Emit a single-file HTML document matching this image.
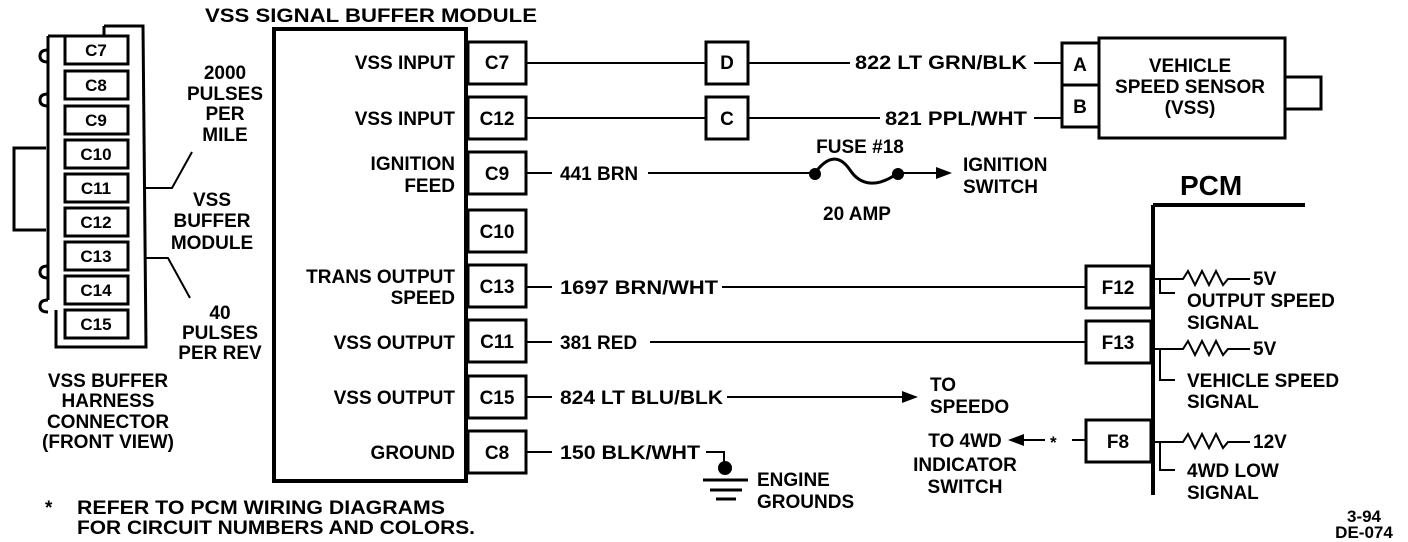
<!DOCTYPE html>
<html><head><meta charset="utf-8"><style>
html,body{margin:0;padding:0;background:#fff;}
svg{display:block;}
text{font-family:"Liberation Sans",sans-serif;font-weight:bold;font-size:19px;fill:#000;}
.m{text-anchor:middle;}
.e{text-anchor:end;}
.s{font-size:17px;}
.t{font-size:17px;}
</style></head><body>
<svg width="1408" height="542" viewBox="0 0 1408 542" xmlns="http://www.w3.org/2000/svg">
<g fill="none" stroke="#000" stroke-width="3">
<path d="M104,26 H143 L146,347 H56 V318 M48,36 H104 V26 M48,36 V300"/>
<path d="M46,148 H14 V230 H46" />
<path d="M48,50 q-8,0 -8,6 q0,6 8,6 M48,94 q-8,0 -8,6 q0,6 8,6 M48,266 q-8,0 -8,6 q0,6 8,6 M48,300 q-8,0 -8,6 q0,6 8,6 M56,318 V310"/>
<rect x="65" y="36" width="63" height="28"/>
<rect x="65" y="71" width="63" height="28"/>
<rect x="65" y="106" width="63" height="28"/>
<rect x="65" y="140" width="63" height="28"/>
<rect x="65" y="174" width="63" height="28"/>
<rect x="65" y="208" width="63" height="28"/>
<rect x="65" y="242" width="63" height="28"/>
<rect x="65" y="276" width="63" height="28"/>
<rect x="65" y="310" width="63" height="28"/>
<path d="M146,188 H172 L192,152 M146,258 H168 L190,298" stroke-width="2"/>
<rect x="274" y="29" width="192" height="452" stroke-width="4"/>
<rect x="468" y="42" width="58" height="42"/>
<rect x="468" y="97" width="58" height="42"/>
<rect x="468" y="152" width="58" height="42"/>
<rect x="468" y="210" width="58" height="42"/>
<rect x="468" y="265" width="58" height="42"/>
<rect x="468" y="320" width="58" height="42"/>
<rect x="468" y="376" width="58" height="42"/>
<rect x="468" y="431" width="58" height="42"/>
<g stroke-width="2">
<path d="M526,63 H706 M748,63 H850 M1034,63 H1062"/>
<path d="M526,118 H706 M748,118 H880 M1034,118 H1062"/>
<path d="M526,173 H552 M648,173 H815 M898,173 H940"/>
<path d="M815,173 C828,155 840,155 850,170 C862,188 880,186 898,173" stroke-width="3"/>
<path d="M526,287 H552 M722,287 H1086"/>
<path d="M526,342 H552 M650,342 H1086"/>
<path d="M526,397 H552 M727,397 H905"/>
<path d="M526,452 H552 M706,452 H724 V466"/>
<path d="M703,480 H748 M710,490 H742 M716,499 H736" stroke-width="3"/>
<path d="M1072,440 H1086 M1045,440 H1020"/>
</g>
<rect x="706" y="42" width="42" height="42"/>
<rect x="706" y="97" width="42" height="42"/>
<rect x="1062" y="43" width="37" height="42"/>
<rect x="1062" y="85" width="37" height="42"/>
<rect x="1099" y="38" width="186" height="100"/>
<rect x="1285" y="77" width="36" height="32"/>
<path d="M1153,205 H1305 M1153,205 V495" stroke-width="4"/>
<rect x="1086" y="266" width="65" height="42"/>
<rect x="1086" y="321" width="65" height="42"/>
<rect x="1086" y="420" width="65" height="42"/>
<g stroke-width="2">
<path d="M1155,279 H1183 l5,-8 l7,14 l7,-14 l7,14 l7,-14 l7,14 l5,-6 H1250 M1160,279 V293 H1175"/>
<path d="M1155,349 H1183 l5,-8 l7,14 l7,-14 l7,14 l7,-14 l7,14 l5,-6 H1250 M1160,349 V380 H1175"/>
<path d="M1155,442 H1183 l5,-8 l7,14 l7,-14 l7,14 l7,-14 l7,14 l5,-6 H1250 M1160,442 V470 H1175"/>
</g>
</g>
<g fill="#000">
<circle cx="815" cy="174" r="6"/><circle cx="898" cy="174" r="6"/>
<circle cx="725" cy="468" r="7"/>
<path d="M952,173 l-16,-6 v12 z"/>
<path d="M918,397 l-16,-6 v12 z"/>
<path d="M1008,440 l16,-6 v12 z"/>
</g>
<text x="205" y="22" textLength="332" lengthAdjust="spacingAndGlyphs">VSS SIGNAL BUFFER MODULE</text>
<text x="96" y="56" class="m s">C7</text>
<text x="96" y="91" class="m s">C8</text>
<text x="96" y="126" class="m s">C9</text>
<text x="96" y="160" class="m s">C10</text>
<text x="96" y="194" class="m s">C11</text>
<text x="96" y="228" class="m s">C12</text>
<text x="96" y="262" class="m s">C13</text>
<text x="96" y="296" class="m s">C14</text>
<text x="96" y="330" class="m s">C15</text>
<text x="225" y="79" class="m">2000</text>
<text x="225" y="100" class="m">PULSES</text>
<text x="225" y="120" class="m">PER</text>
<text x="225" y="141" class="m">MILE</text>
<text x="212" y="206" class="m">VSS</text>
<text x="212" y="227" class="m">BUFFER</text>
<text x="212" y="249" class="m">MODULE</text>
<text x="220" y="319" class="m">40</text>
<text x="220" y="339" class="m">PULSES</text>
<text x="220" y="359" class="m">PER REV</text>
<text x="108" y="387" class="m">VSS BUFFER</text>
<text x="108" y="407" class="m">HARNESS</text>
<text x="108" y="428" class="m">CONNECTOR</text>
<text x="108" y="448" class="m">(FRONT VIEW)</text>
<text x="455" y="69" class="e">VSS INPUT</text>
<text x="455" y="125" class="e">VSS INPUT</text>
<text x="455" y="170" class="e">IGNITION</text>
<text x="455" y="192" class="e">FEED</text>
<text x="455" y="283" class="e">TRANS OUTPUT</text>
<text x="455" y="304" class="e">SPEED</text>
<text x="455" y="349" class="e">VSS OUTPUT</text>
<text x="455" y="404" class="e">VSS OUTPUT</text>
<text x="455" y="459" class="e">GROUND</text>
<text x="497" y="69" class="m">C7</text>
<text x="497" y="125" class="m">C12</text>
<text x="497" y="180" class="m">C9</text>
<text x="497" y="238" class="m">C10</text>
<text x="497" y="293" class="m">C13</text>
<text x="497" y="348" class="m">C11</text>
<text x="497" y="404" class="m">C15</text>
<text x="497" y="459" class="m">C8</text>
<text x="727" y="69" class="m">D</text>
<text x="727" y="125" class="m">C</text>
<text x="855" y="69" textLength="172" lengthAdjust="spacingAndGlyphs">822 LT GRN/BLK</text>
<text x="885" y="125" textLength="142" lengthAdjust="spacingAndGlyphs">821 PPL/WHT</text>
<text x="1080" y="71" class="m">A</text>
<text x="1080" y="113" class="m">B</text>
<text x="1190" y="72" class="m">VEHICLE</text>
<text x="1190" y="93" class="m">SPEED SENSOR</text>
<text x="1190" y="114" class="m">(VSS)</text>
<text x="560" y="180">441 BRN</text>
<text x="860" y="153" class="m">FUSE #18</text>
<text x="857" y="220" class="m">20 AMP</text>
<text x="963" y="171">IGNITION</text>
<text x="963" y="193">SWITCH</text>
<text x="1180" y="195" style="font-size:28px">PCM</text>
<text x="560" y="294" textLength="158" lengthAdjust="spacingAndGlyphs">1697 BRN/WHT</text>
<text x="560" y="349">381 RED</text>
<text x="560" y="404" textLength="163" lengthAdjust="spacingAndGlyphs">824 LT BLU/BLK</text>
<text x="560" y="459" textLength="140" lengthAdjust="spacingAndGlyphs">150 BLK/WHT</text>
<text x="930" y="391">TO</text>
<text x="930" y="413">SPEEDO</text>
<text x="757" y="486">ENGINE</text>
<text x="757" y="508">GROUNDS</text>
<text x="965" y="447" class="m">TO 4WD</text>
<text x="965" y="471" class="m">INDICATOR</text>
<text x="965" y="493" class="m">SWITCH</text>
<text x="1050" y="448" class="t">*</text>
<text x="1118" y="294" class="m">F12</text>
<text x="1118" y="349" class="m">F13</text>
<text x="1118" y="448" class="m">F8</text>
<text x="1253" y="285">5V</text>
<text x="1253" y="355">5V</text>
<text x="1253" y="448">12V</text>
<text x="1187" y="307">OUTPUT SPEED</text>
<text x="1187" y="329">SIGNAL</text>
<text x="1187" y="387">VEHICLE SPEED</text>
<text x="1187" y="408">SIGNAL</text>
<text x="1187" y="477">4WD LOW</text>
<text x="1187" y="499">SIGNAL</text>
<text x="45" y="514">*</text>
<text x="77" y="514" textLength="368" lengthAdjust="spacingAndGlyphs">REFER TO PCM WIRING DIAGRAMS</text>
<text x="77" y="534" textLength="398" lengthAdjust="spacingAndGlyphs">FOR CIRCUIT NUMBERS AND COLORS.</text>
<text x="1364" y="522" class="m t">3-94</text>
<text x="1364" y="538" class="m t">DE-074</text>
</svg>
</body></html>
